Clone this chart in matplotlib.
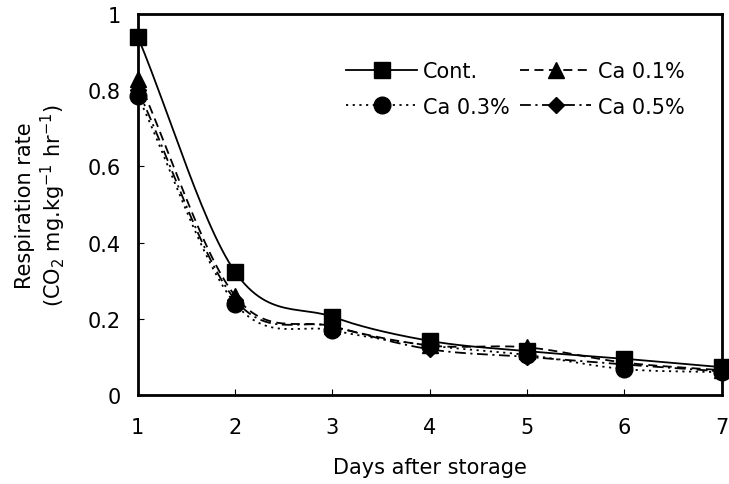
import numpy as np
import matplotlib
matplotlib.use("Agg")
import matplotlib.pyplot as plt
from matplotlib.lines import Line2D

days = [1, 2, 3, 4, 5, 6, 7]
cont = [0.94, 0.323, 0.205, 0.142, 0.115, 0.095, 0.073]
ca01 = [0.83, 0.26, 0.18, 0.13, 0.125, 0.085, 0.065]
ca03 = [0.785, 0.24, 0.17, 0.13, 0.105, 0.068, 0.06]
ca05 = [0.80, 0.25, 0.18, 0.12, 0.10, 0.08, 0.062]

series = {
  "Cont.":   (cont, "-", "s", 12),
  "Ca 0.1%": (ca01, (0, (5, 3)), "^", 12),
  "Ca 0.3%": (ca03, (0, (1.2, 2.5)), "o", 12),
  "Ca 0.5%": (ca05, (0, (6, 2.5, 1.2, 2.5)), "D", 8.5),
}
# legend fills column-wise, so this order gives Cont./Ca 0.1% on the first row
legend_order = ["Cont.", "Ca 0.3%", "Ca 0.1%", "Ca 0.5%"]

def smooth(x, y, n=30):
  # Catmull-Rom through the points, like the spreadsheet "smoothed line"
  x = np.asarray(x, float)
  y = np.asarray(y, float)
  px = np.concatenate([[2*x[0]-x[1]], x, [2*x[-1]-x[-2]]])
  py = np.concatenate([[2*y[0]-y[1]], y, [2*y[-1]-y[-2]]])
  xs, ys = [], []
  t = np.linspace(0, 1, n)
  for i in range(1, len(px)-2):
    for p, out in ((px, xs), (py, ys)):
      p0, p1, p2, p3 = p[i-1], p[i], p[i+1], p[i+2]
      out.extend(0.5*((2*p1) + (-p0+p2)*t + (2*p0-5*p1+4*p2-p3)*t**2 + (-p0+3*p1-3*p2+p3)*t**3))
  return xs, ys

plt.rcParams['font.family'] = ['DejaVu Sans']
fig = plt.figure(figsize=(7.29, 4.85), dpi=100)
ax = fig.add_axes([0.189, 0.1835, 0.801, 0.786])

handles = {}
for label, (vals, ls, mk, ms) in series.items():
  sx, sy = smooth(days, vals)
  ax.plot(sx, sy, color="black", linestyle=ls, linewidth=1.3, clip_on=False)
  ax.plot(days, vals, linestyle="none", marker=mk, markersize=ms, color="black", clip_on=False, zorder=3)
  handles[label] = Line2D([], [], color="black", linestyle=ls, linewidth=1.3, marker=mk, markersize=ms, label=label)

ax.set_xlim(1, 7)
ax.set_ylim(0, 1)
ax.set_xticks(days)
ax.set_yticks([0, 0.2, 0.4, 0.6, 0.8, 1])
ax.set_yticklabels(["0", "0.2", "0.4", "0.6", "0.8", "1"])
ax.tick_params(direction="in", length=4, labelsize=15)
ax.tick_params(axis="x", pad=16)
ax.tick_params(axis="y", pad=12)
for s in ax.spines.values():
  s.set_linewidth(2)

ax.set_xlabel("Days after storage", fontsize=15, labelpad=14)
ax.set_ylabel("Respiration rate\n(CO$_2$ mg.kg$^{-1}$ hr$^{-1}$)", fontsize=15, labelpad=14)

ax.legend(handles=[handles[k] for k in legend_order], ncol=2, frameon=False, fontsize=15,
  loc="upper right", bbox_to_anchor=(0.968, 0.925), handlelength=3.4,
  columnspacing=0.5, labelspacing=0.75, handletextpad=0.3)

fig.savefig("out.png", dpi=100)
